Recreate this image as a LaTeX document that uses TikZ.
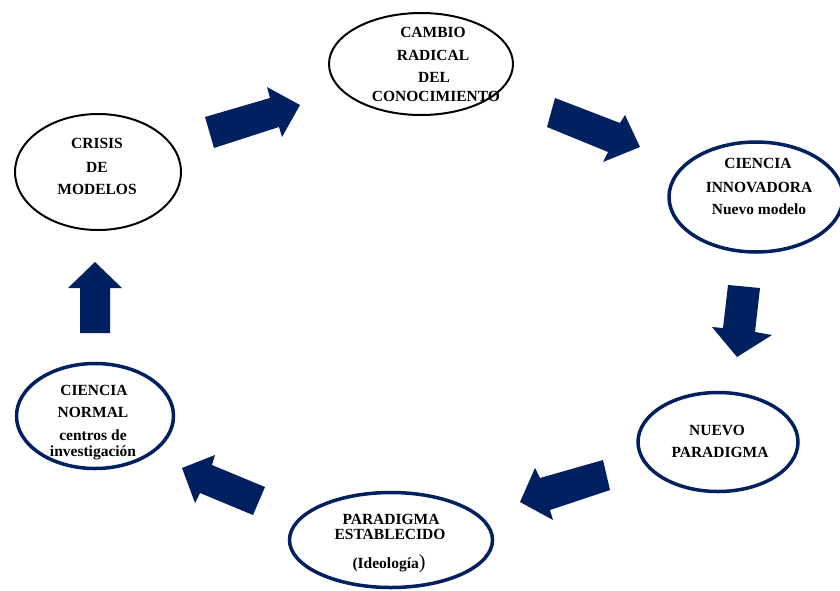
\documentclass[tikz,border=0pt]{standalone}
\usepackage{fontspec}
\setmainfont{Liberation Serif}
\usetikzlibrary{shapes.geometric}
\definecolor{navy}{RGB}{0,32,96}
\begin{document}
\begin{tikzpicture}[x=1pt,y=-1pt,
  lbl/.style={font=\fontsize{15.5}{16}\selectfont\bfseries, text height=10.3pt, text depth=0pt, inner sep=0pt},
  oval/.style={ellipse, inner sep=0pt},
  blackoval/.style={oval, draw=black, line width=2pt},
  navyoval/.style={oval, draw=navy, line width=3.5pt},
  blockarrow/.style={fill=navy, draw=none}]
\useasboundingbox (0,0) rectangle (840,590);

% ovals of the cycle
\node[blackoval, minimum width=166pt, minimum height=116pt] (crisis) at (98,172) {};
\node[blackoval, minimum width=184pt, minimum height=102pt] (cambio) at (421,64) {};
\node[navyoval, minimum width=174pt, minimum height=110pt] (innov) at (756,197) {};
\node[navyoval, minimum width=160pt, minimum height=99pt] (nuevo) at (718,442) {};
\node[navyoval, minimum width=203pt, minimum height=95pt] (estab) at (391,540) {};
\node[navyoval, minimum width=157pt, minimum height=105pt] (normal) at (95,416) {};

% labels
\node[lbl] (crisis1) at (97,143) {CRISIS};
\node[lbl] (crisis2) at (97,167) {DE};
\node[lbl] (crisis3) at (97,189) {MODELOS};

\node[lbl] (cambio1) at (433,32) {CAMBIO};
\node[lbl] (cambio2) at (433,55) {RADICAL};
\node[lbl] (cambio3) at (434,77) {DEL};
\node[lbl] (cambio4) at (436,96) {CONOCIMIENTO};

\node[lbl] (innov1) at (758,163) {CIENCIA};
\node[lbl] (innov2) at (759,187) {INNOVADORA};
\node[lbl] (innov3) at (759,209) {Nuevo modelo};

\node[lbl] (nuevo1) at (717,430) {NUEVO};
\node[lbl] (nuevo2) at (720,452) {PARADIGMA};

\node[lbl] (estab1) at (391,519) {PARADIGMA};
\node[lbl] (estab2) at (390,534) {ESTABLECIDO};
\node[lbl] (estab3) at (389,563) {(Ideología{\fontsize{20}{20}\selectfont\mdseries)}};

\node[lbl] (normal1) at (94,390) {CIENCIA};
\node[lbl] (normal2) at (93,412) {NORMAL};
\node[lbl] (normal3) at (93,435) {centros de};
\node[lbl] (normal4) at (93,451) {investigación};

% block arrows between the ovals
\fill[blockarrow] (205,117) -- (270,98) -- (267,87) -- (300,105) -- (282,137) -- (279,127) -- (214,148) -- cycle;
\fill[blockarrow] (555,98) -- (620,123) -- (625,115) -- (640,147) -- (603,162) -- (608,152) -- (547,127) -- cycle;
\fill[blockarrow] (728,285) -- (760,288) -- (755,332) -- (772,335) -- (737,357) -- (712,327) -- (723,328) -- cycle;
\fill[blockarrow] (603,460) -- (610,490) -- (550,510) -- (553,520) -- (520,502) -- (535,468) -- (540,478) -- cycle;
\fill[blockarrow] (265,487) -- (253,515) -- (200,493) -- (195,503) -- (182,468) -- (215,455) -- (212,465) -- cycle;
\fill[blockarrow] (80,333) -- (80,288) -- (68,288) -- (95,262) -- (122,288) -- (110,288) -- (110,333) -- cycle;
\end{tikzpicture}
\end{document}
